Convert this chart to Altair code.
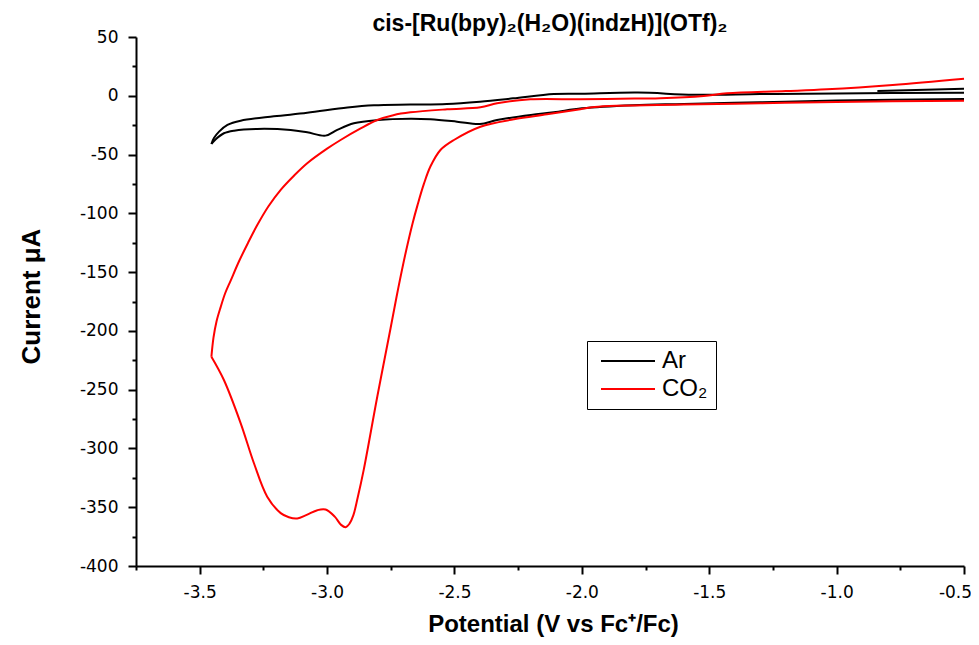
import altair as alt
import pandas as pd

# ---- data ----
series_names = ["Ar", "CO₂"]

# Ar, cathodic branch (lower, scanned towards negative potential)
ar_cath_x = [-0.5, -1.0, -1.3, -1.6, -1.8, -2.0, -2.11, -2.2, -2.333, -2.4, -2.49, -2.594,
             -2.673, -2.8, -2.895, -2.96, -3.006, -3.078, -3.143, -3.274, -3.365, -3.405,
             -3.437, -3.454]
ar_cath_y = [-2.7, -4.0, -5.5, -7.0, -8.0, -10.7, -14.1, -16.3, -20.6, -24.0, -22.0, -20.0,
             -19.5, -20.6, -23.4, -29.0, -33.9, -31.1, -29.1, -28.2, -29.7, -31.9,
             -37.0, -41.0]
# Ar, anodic branch (upper, return scan)
ar_anod_x = [-3.454, -3.444, -3.424, -3.391, -3.339, -3.209, -3.078, -2.92, -2.816, -2.673,
             -2.53, -2.4, -2.27, -2.11, -2.0, -1.78, -1.56, -1.3, -1.0, -0.5]
ar_anod_y = [-41.0, -36.0, -30.5, -24.8, -21.2, -17.5, -14.5, -10.0, -8.1, -7.5,
             -7.0, -5.0, -2.2, 1.5, 1.8, 2.7, 0.9, 1.5, 2.0, 2.6]
# Ar, short extra trace at the right end
ar_extra_x = [-0.84, -0.5]
ar_extra_y = [4.0, 6.0]

# CO2, cathodic branch
co2_cath_x = [-0.5, -1.0, -1.3, -1.6, -1.95, -2.006, -2.137, -2.267, -2.398, -2.502, -2.555,
              -2.594, -2.62, -2.645, -2.665, -2.69, -2.72, -2.751, -2.803, -2.856, -2.88,
              -2.897, -2.912, -2.927, -2.945, -2.97, -3.006, -3.038, -3.08, -3.117, -3.15,
              -3.182, -3.235, -3.287, -3.339, -3.405, -3.454]
co2_cath_y = [-4.2, -5.2, -6.4, -7.5, -9.5, -11.5, -15.8, -20.0, -26.3, -37.6, -46.1,
              -60.0, -75.0, -93.0, -109.0, -132.0, -163.0, -198.0, -256.0, -318.0, -342.0,
              -357.0, -364.0, -367.0, -365.0, -358.0, -352.0, -352.5, -356.5, -359.5, -358.5,
              -355.0, -341.0, -312.6, -278.6, -241.8, -222.0]
# CO2, anodic branch
co2_anod_x = [-3.454, -3.446, -3.434, -3.418, -3.4, -3.378, -3.346, -3.31, -3.274, -3.23,
              -3.182, -3.13, -3.078, -3.0, -2.947, -2.87, -2.803, -2.74, -2.673,
              -2.529, -2.398, -2.333, -2.202, -2.006, -1.85, -1.692, -1.522, -1.43,
              -1.2, -1.038, -0.78, -0.5]
co2_anod_y = [-222.0, -206.0, -192.0, -180.0, -168.0, -157.0, -141.0, -125.0, -110.0, -94.0,
              -80.0, -68.0, -57.4, -45.0, -37.6, -28.0, -20.6, -16.5, -14.1,
              -11.5, -9.8, -6.4, -3.0, -3.0, -2.5, -2.1, -0.2, 2.1,
              4.0, 5.5, 9.2, 14.5]

x_ticks = [-3.75 + 0.25 * i for i in range(14)]
y_ticks = list(range(-400, 51, 25))

segments = [
    ("Ar", "ar-c", ar_cath_x, ar_cath_y),
    ("Ar", "ar-a", ar_anod_x, ar_anod_y),
    ("Ar", "ar-e", ar_extra_x, ar_extra_y),
    ("CO₂", "co2-c", co2_cath_x, co2_cath_y),
    ("CO₂", "co2-a", co2_anod_x, co2_anod_y),
]
rows = []
for series, seg, xs, ys in segments:
    for i, (a, b) in enumerate(zip(xs, ys)):
        rows.append({"x": a, "y": b, "series": series, "seg": seg, "order": i})
df = pd.DataFrame(rows)

tick_font = "DejaVu Sans"

x_axis = alt.Axis(
    values=x_ticks,
    labelExpr="(datum.value * 2) % 1 === 0 ? (datum.value % 1 === 0 ? datum.value + '.0' : '' + datum.value) : ''",
    tickSize={"condition": {"test": "(datum.value * 2) % 1 === 0", "value": 8}, "value": 4},
    labelOffset={"condition": {"test": "datum.value > -0.6", "value": -9}, "value": 0},
    title="Potential (V vs Fc⁺/Fc)",
    titleFont="Liberation Sans", titleFontSize=24, titleFontWeight="bold", titleColor="black",
    titleX=417, titleY=65, titleAlign="center", titleBaseline="alphabetic", titleAngle=0,
    labelFont=tick_font, labelFontSize=17, labelColor="black", labelPadding=10,
    labelFlush=False, labelOverlap=False,
    domainColor="black", domainWidth=2, tickColor="black", tickWidth=2, grid=False,
)
y_axis = alt.Axis(
    values=y_ticks,
    labelExpr="datum.value % 50 === 0 ? '' + datum.value : ''",
    tickSize={"condition": {"test": "datum.value % 50 === 0", "value": 8}, "value": 4},
    title="Current μA",
    titleFont="Liberation Sans", titleFontSize=26, titleFontWeight="bold", titleColor="black",
    titleX=-97, titleY=259, titleAlign="center", titleBaseline="alphabetic", titleAngle=270,
    labelFont=tick_font, labelFontSize=17, labelColor="black", labelPadding=10,
    labelFlush=False, labelOverlap=False,
    domainColor="black", domainWidth=2, tickColor="black", tickWidth=2, grid=False,
)

legend = alt.Legend(
    title="", orient="none", legendX=451, legendY=304,
    strokeColor="black", fillColor="white", padding=8,
    symbolType="M-0.6,0H4.8", symbolSize=400, symbolStrokeWidth=2,
    labelFont="Liberation Sans", labelFontSize=24, labelColor="black",
    labelOffset=43, rowPadding=4,
)

chart = alt.Chart(df).mark_line(strokeWidth=2, interpolate="catmull-rom").encode(
    x=alt.X("x:Q", scale=alt.Scale(domain=[-3.75, -0.5], nice=False, zero=False), axis=x_axis),
    y=alt.Y("y:Q", scale=alt.Scale(domain=[-400, 50], nice=False, zero=False), axis=y_axis),
    color=alt.Color("series:N",
                    scale=alt.Scale(domain=series_names, range=["#000000", "#ff0000"]),
                    legend=legend),
    detail="seg:N",
    order="order:Q",
).properties(
    width=828, height=529,
    padding={"left": 128, "top": 29, "right": 7, "bottom": 71},
    autosize=alt.AutoSizeParams(type="none"),
    title=alt.TitleParams(
        text="cis-[Ru(bpy)₂(H₂O)(indzH)](OTf)₂",
        font="Liberation Sans", fontSize=23, fontWeight="bold", color="black",
        anchor="middle", baseline="alphabetic", offset=2, dy=28,
    ),
).configure_view(strokeWidth=0)

chart.save("out.html", embed_options={"renderer": "svg", "actions": False})
